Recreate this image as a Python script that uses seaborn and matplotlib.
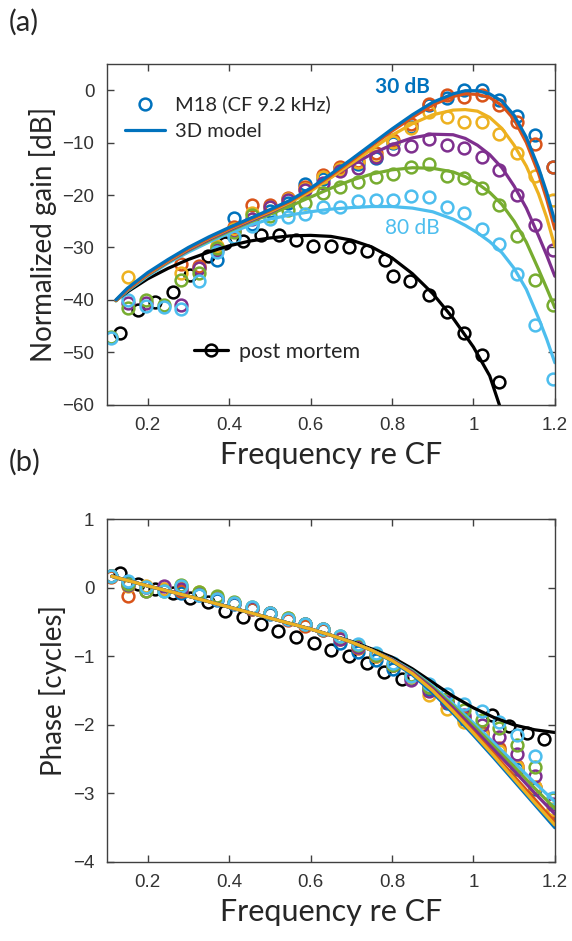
import numpy as np
import pandas as pd
import seaborn as sns
import matplotlib.pyplot as plt
from matplotlib.lines import Line2D
from matplotlib.legend_handler import HandlerTuple

sns.set_style("ticks")
plt.rcParams['font.family'] = ['Lato', 'DejaVu Sans']

# Sound levels and MATLAB-like colours
levels = ['30 dB', '40 dB', '50 dB', '60 dB', '70 dB', '80 dB']
colors = ['#0072BD', '#D95319', '#EDB120', '#7E2F8E', '#77AC30', '#4DBEEE']

# ---------------- (a) gain data (circles) ----------------
freq_data = [0.110, 0.152, 0.196, 0.240, 0.283, 0.327, 0.370, 0.413, 0.456, 0.500,
             0.544, 0.587, 0.630, 0.672, 0.716, 0.761, 0.803, 0.847, 0.890, 0.935,
             0.977, 1.020, 1.064, 1.108, 1.152, 1.196]
nan = np.nan
gain_30 = [nan, nan, nan, nan, nan, nan, -32.4, -24.3, -25.5, -23.0, -21.5, -17.9, -17.0,
           -14.8, -14.0, -13.0, -10.0, -7.0, -2.9, -1.5, 0.1, 0.1, -1.9, -5.0, -8.6, -14.6]
gain_40 = [nan, nan, nan, nan, -33.1, -33.5, -30.0, -26.2, -21.9, -21.9, -20.6, -18.5, -16.2,
           -14.6, -13.5, -12.0, -9.5, -6.5, -2.7, -1.0, -1.3, -1.0, -2.9, -6.0, -10.3, -14.6]
gain_50 = [nan, -35.6, nan, nan, -34.9, -34.0, -29.8, -26.5, -23.5, -22.2, -20.8, -18.8, -16.5,
           -15.0, -13.7, -12.5, -9.8, -7.3, -4.2, -5.1, -6.0, -6.0, -8.4, -11.9, -16.3, -21.0]
gain_60 = [nan, -40.6, -40.7, nan, -41.0, -34.0, -30.5, -26.8, -24.6, -22.3, -21.0, -19.0, -17.8,
           -15.5, -14.8, -12.8, -11.3, -10.7, -9.3, -10.4, -11.1, -12.7, -15.2, -20.0, -25.7, -30.5]
gain_70 = [-47.0, -41.6, -40.1, -41.0, -36.2, -34.8, -30.2, -27.0, -23.9, -24.0, -22.8, -21.6, -19.7,
           -18.4, -17.5, -16.6, -15.9, -14.6, -14.0, -16.4, -16.8, -18.7, -21.9, -27.8, -36.2, -41.0]
gain_80 = [-47.3, -40.0, -41.1, -41.3, -41.8, -36.4, -30.8, -28.0, -26.0, -24.6, -24.2, -23.6, -22.2,
           -22.3, -21.2, -21.0, -20.9, -20.2, -20.3, -22.2, -23.5, -26.4, -29.4, -35.1, -44.8, -55.2]

freq_pm = [0.132, 0.175, 0.218, 0.261, 0.304, 0.347, 0.390, 0.434, 0.478, 0.523, 0.564, 0.607,
           0.650, 0.695, 0.738, 0.783, 0.803, 0.845, 0.890, 0.934, 0.978, 1.021, 1.063]
gain_pm = [-46.3, -41.9, -40.5, -38.6, -35.2, -31.7, -29.2, -28.7, -27.7, -27.6, -28.6, -29.7,
           -29.7, -30.0, -30.7, -32.4, -35.4, -36.4, -39.1, -42.3, -46.3, -50.5, -55.6]

# ---------------- (a) model curves ----------------
freq_model = [0.122, 0.15, 0.20, 0.25, 0.30, 0.35, 0.40, 0.45, 0.50, 0.55, 0.60, 0.65, 0.70,
              0.75, 0.80, 0.85, 0.90, 0.95, 0.98, 1.01, 1.04, 1.07, 1.10, 1.13, 1.16, 1.18, 1.20]
model_30 = [-40.0, -37.8, -34.8, -32.3, -30.0, -28.0, -26.2, -24.5, -22.8, -21.0, -18.7, -16.0, -13.2,
            -10.3, -7.4, -4.7, -2.3, -0.7, -0.1, -0.1, -0.7, -2.1, -4.8, -9.0, -14.8, -19.5, -25.0]
model_40 = [-40.1, -38.0, -35.0, -32.5, -30.2, -28.2, -26.4, -24.7, -23.0, -21.2, -18.9, -16.3, -13.5,
            -10.6, -7.8, -5.2, -2.8, -1.2, -0.7, -0.8, -1.4, -2.9, -5.6, -10.0, -15.9, -20.8, -26.5]
model_50 = [-40.1, -38.0, -35.1, -32.6, -30.3, -28.3, -26.5, -24.8, -23.2, -21.4, -19.3, -16.7, -14.0,
            -11.3, -8.6, -6.4, -4.7, -3.8, -3.7, -4.0, -5.2, -7.3, -10.5, -14.5, -19.8, -24.3, -29.8]
model_60 = [-40.1, -38.1, -35.2, -32.7, -30.5, -28.5, -26.7, -25.0, -23.4, -21.4, -19.0, -16.6, -14.3,
            -12.2, -10.4, -9.1, -8.4, -8.5, -9.2, -10.5, -12.3, -14.8, -18.3, -22.5, -27.8, -31.5, -35.5]
model_70 = [-40.2, -38.2, -35.3, -32.8, -30.6, -28.7, -26.9, -25.2, -23.7, -22.1, -20.4, -18.7, -17.2,
            -16.0, -15.2, -14.8, -14.9, -15.6, -16.5, -17.8, -19.5, -21.8, -25.0, -29.0, -34.2, -37.8, -41.5]
model_80 = [-40.2, -38.3, -35.5, -33.0, -30.9, -29.0, -27.3, -25.8, -24.6, -23.8, -23.2, -22.7, -22.4,
            -22.2, -22.2, -22.5, -23.2, -24.6, -25.8, -27.2, -28.9, -31.0, -34.0, -38.0, -43.5, -47.5, -52.0]

freq_model_pm = [0.122, 0.15, 0.20, 0.25, 0.30, 0.35, 0.40, 0.45, 0.50, 0.55, 0.60, 0.65, 0.70,
                 0.75, 0.80, 0.85, 0.90, 0.95, 1.00, 1.04, 1.07]
model_pm = [-40.1, -38.5, -36.0, -34.0, -32.3, -30.9, -29.7, -28.8, -28.2, -27.8, -27.7, -27.9, -28.6,
            -29.9, -32.0, -35.0, -38.8, -43.5, -49.0, -54.5, -61.5]

# ---------------- (b) phase data ----------------
phase_30 = [0.17, 0.09, 0.02, -0.03, -0.07, -0.11, -0.17, -0.24, -0.31, -0.38, -0.46, -0.53, -0.62,
            -0.81, -0.94, -1.05, -1.18, -1.31, -1.47, -1.68, -1.91, -2.13, -2.37, -2.64, -2.93, -3.28]
phase_40 = [0.16, -0.12, 0.02, -0.02, -0.04, -0.08, -0.15, -0.22, -0.31, -0.37, -0.47, -0.55, -0.62,
            -0.75, -0.88, -1.00, -1.12, -1.28, -1.45, -1.66, -1.88, -2.10, -2.34, -2.60, -2.90, -3.25]
phase_50 = [0.17, 0.03, 0.03, -0.01, 0.02, -0.06, -0.14, -0.22, -0.29, -0.36, -0.44, -0.53, -0.60,
            -0.72, -0.86, -1.00, -1.12, -1.30, -1.57, -1.77, -1.95, -2.15, -2.38, -2.62, -2.90, -3.22]
phase_60 = [0.17, 0.04, -0.04, 0.03, -0.02, -0.08, -0.16, -0.22, -0.30, -0.37, -0.45, -0.52, -0.60,
            -0.74, -0.86, -0.98, -1.12, -1.35, -1.50, -1.67, -1.85, -2.00, -2.18, -2.42, -2.74, -3.16]
phase_70 = [0.17, 0.06, -0.05, -0.05, 0.05, -0.06, -0.12, -0.20, -0.28, -0.36, -0.44, -0.52, -0.60,
            -0.70, -0.84, -0.98, -1.12, -1.27, -1.45, -1.62, -1.78, -1.93, -2.05, -2.30, -2.62, -3.08]
phase_80 = [0.17, 0.10, 0.02, -0.04, 0.03, -0.10, -0.16, -0.22, -0.28, -0.36, -0.45, -0.52, -0.60,
            -0.70, -0.82, -0.95, -1.10, -1.28, -1.40, -1.55, -1.70, -1.80, -1.95, -2.15, -2.45, -3.06]

freq_pm_ph = [0.132, 0.175, 0.218, 0.261, 0.304, 0.347, 0.390, 0.434, 0.478, 0.521, 0.564, 0.608,
              0.651, 0.695, 0.738, 0.781, 0.825, 1.045, 1.088, 1.131, 1.174]
phase_pm = [0.22, 0.06, -0.01, -0.08, -0.14, -0.21, -0.33, -0.42, -0.52, -0.63, -0.72, -0.81,
            -0.91, -1.00, -1.10, -1.22, -1.33, -1.86, -2.01, -2.12, -2.20]

# ---------------- (b) model curves ----------------
freq_model_ph = [0.112, 0.2, 0.3, 0.4, 0.5, 0.55, 0.6, 0.65, 0.7, 0.75, 0.8, 0.85, 0.9, 0.95,
                 1.0, 1.05, 1.1, 1.15, 1.2]
ph_common = [0.17, 0.03, -0.12, -0.28, -0.44, -0.52, -0.60, -0.69, -0.79, -0.91]
model_ph_30 = ph_common + [-1.07, -1.27, -1.53, -1.83, -2.15, -2.48, -2.82, -3.16, -3.50]
model_ph_40 = ph_common + [-1.06, -1.25, -1.50, -1.79, -2.10, -2.42, -2.75, -3.08, -3.42]
model_ph_50 = ph_common + [-1.06, -1.25, -1.50, -1.80, -2.12, -2.45, -2.79, -3.13, -3.46]
model_ph_60 = ph_common + [-1.05, -1.23, -1.47, -1.75, -2.05, -2.36, -2.67, -2.99, -3.30]
model_ph_70 = ph_common + [-1.05, -1.22, -1.45, -1.72, -2.01, -2.31, -2.61, -2.92, -3.22]
model_ph_80 = ph_common + [-1.04, -1.21, -1.43, -1.69, -1.97, -2.26, -2.55, -2.84, -3.12]
model_ph_pm = [0.17, 0.03, -0.12, -0.28, -0.44, -0.52, -0.60, -0.69, -0.78, -0.89, -1.01, -1.18,
               -1.38, -1.58, -1.75, -1.89, -2.00, -2.07, -2.11]

gain_data = [gain_30, gain_40, gain_50, gain_60, gain_70, gain_80]
gain_model = [model_30, model_40, model_50, model_60, model_70, model_80]
phase_data = [phase_30, phase_40, phase_50, phase_60, phase_70, phase_80]
phase_model = [model_ph_30, model_ph_40, model_ph_50, model_ph_60, model_ph_70, model_ph_80]

LW = 2.3
MS = 8.5
MEW = 1.8
axis_col = '#404040'
tick_font = {'family': ['Liberation Sans', 'DejaVu Sans'], 'size': 13.5, 'color': '#333333'}


def circles(ax, x, y, color):
    df = pd.DataFrame({'f': x, 'v': y}).dropna()
    sns.lineplot(data=df, x='f', y='v', ax=ax, linestyle='', marker='o', markersize=MS,
                 markerfacecolor='none', markeredgecolor=color, markeredgewidth=MEW,
                 color=color, errorbar=None, sort=False)


def curve(ax, x, y, color):
    df = pd.DataFrame({'f': x, 'v': y})
    sns.lineplot(data=df, x='f', y='v', ax=ax, color=color, linewidth=LW,
                 errorbar=None, sort=False)


def style_axes(ax):
    for s in ax.spines.values():
        s.set_visible(True)
        s.set_color(axis_col)
        s.set_linewidth(1.0)
    ax.tick_params(direction='in', length=5, width=1, color=axis_col,
                   top=True, right=True, pad=9)
    for lab in ax.get_xticklabels() + ax.get_yticklabels():
        lab.set_fontfamily(tick_font['family'])
        lab.set_fontsize(tick_font['size'])
        lab.set_color(tick_font['color'])


fig = plt.figure(figsize=(5.72, 9.41), dpi=100)
ax1 = fig.add_axes([0.187, 0.570, 0.783, 0.362])
ax2 = fig.add_axes([0.187, 0.084, 0.783, 0.364])

# ---- panel (a) ----
circles(ax1, freq_pm, gain_pm, 'black')
for vals, c in zip(gain_data, colors):
    circles(ax1, freq_data, vals, c)
curve(ax1, freq_model_pm, model_pm, 'black')
for i in [5, 4, 3, 2, 1, 0]:
    curve(ax1, freq_model, gain_model[i], colors[i])

ax1.set_xlim(0.1, 1.2)
ax1.set_ylim(-60, 5)
ax1.set_xticks([0.2, 0.4, 0.6, 0.8, 1.0, 1.2])
ax1.set_xticklabels(['0.2', '0.4', '0.6', '0.8', '1', '1.2'])
ax1.set_yticks([-60, -50, -40, -30, -20, -10, 0])
ax1.set_xlabel('Frequency re CF', fontsize=22, labelpad=5)
ax1.set_ylabel('Normalized gain [dB]', fontsize=20, labelpad=4)
style_axes(ax1)

ax1.text(0.825, 0.6, '30 dB', color=colors[0], fontsize=15, fontweight='bold',
         ha='center', va='center')
ax1.text(0.85, -26.3, '80 dB', color=colors[5], fontsize=15, ha='center', va='center')

h_circ = Line2D([], [], linestyle='', marker='o', markersize=MS, markerfacecolor='none',
                markeredgecolor=colors[0], markeredgewidth=MEW)
h_line = Line2D([], [], color=colors[0], linewidth=LW)
leg1 = ax1.legend([h_circ, h_line], ['M18 (CF 9.2 kHz)', '3D model'], loc='upper left',
                  bbox_to_anchor=(0.0, 0.96), frameon=False, fontsize=14.5,
                  handlelength=2.0, handletextpad=0.5, labelspacing=0.45)
ax1.add_artist(leg1)
h_pm_c = Line2D([], [], linestyle='', marker='o', markersize=MS, markerfacecolor='none',
                markeredgecolor='black', markeredgewidth=MEW)
h_pm_l = Line2D([], [], color='black', linewidth=LW)
ax1.legend([(h_pm_l, h_pm_c)], ['post mortem'], loc='center left',
           bbox_to_anchor=(0.15, 0.155), frameon=False, fontsize=15.5,
           handlelength=1.6, handletextpad=0.5,
           handler_map={tuple: HandlerTuple(ndivide=1)})

# ---- panel (b) ----
circles(ax2, freq_pm_ph, phase_pm, 'black')
for vals, c in zip(phase_data, colors):
    circles(ax2, freq_data, vals, c)
curve(ax2, freq_model_ph, model_ph_pm, 'black')
for i in [5, 4, 3, 1, 0, 2]:
    curve(ax2, freq_model_ph, phase_model[i], colors[i])

ax2.set_xlim(0.1, 1.2)
ax2.set_ylim(-4, 1)
ax2.set_xticks([0.2, 0.4, 0.6, 0.8, 1.0, 1.2])
ax2.set_xticklabels(['0.2', '0.4', '0.6', '0.8', '1', '1.2'])
ax2.set_yticks([-4, -3, -2, -1, 0, 1])
ax2.set_xlabel('Frequency re CF', fontsize=22, labelpad=5)
ax2.set_ylabel('Phase [cycles]', fontsize=20, labelpad=4)
style_axes(ax2)

fig.text(0.016, 0.976, '(a)', fontsize=21, ha='left', va='center')
fig.text(0.016, 0.509, '(b)', fontsize=21, ha='left', va='center')

fig.savefig('out.png', dpi=100)
